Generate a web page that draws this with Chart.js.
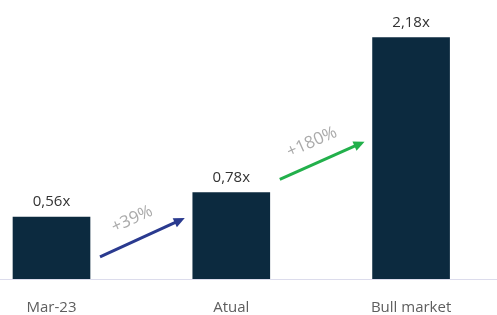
<!DOCTYPE html>
<html>
<head>
<meta charset="utf-8">
<script src="https://cdn.jsdelivr.net/npm/chart.js@4/dist/chart.umd.min.js"></script>
<style>
  html, body { margin: 0; padding: 0; background: #fff; }
  #wrap { width: 497px; height: 315px; position: relative; }
</style>
</head>
<body>
<div id="wrap"><canvas id="chart"></canvas></div>
<script>
// Múltiplos: Mar-23 -> Atual -> Bull market
const categories = ['Mar-23', 'Atual', 'Bull market'];
const multiples = [0.56, 0.78, 2.18];
const valueLabels = ['0,56x', '0,78x', '2,18x'];

// setas entre as barras (valores no eixo y)
const arrowFromY = [0.2, 0.9];
const arrowToY = [0.55, 1.24];
const arrowLabels = ['+39%', '+180%'];
const arrowColors = ['#2a3a8f', '#22b04b'];

const BAR_COLOR = '#0c2a3f';
const FONT = '"Open Sans", Lato, sans-serif';

const annotations = {
  id: 'annotations',
  afterDatasetsDraw(chart) {
    const { ctx, scales: { y } } = chart;
    const bars = chart.getDatasetMeta(0).data;

    ctx.save();
    ctx.font = `15px ${FONT}`;
    ctx.fillStyle = '#333';
    ctx.textAlign = 'center';
    ctx.textBaseline = 'middle';
    bars.forEach((bar, i) => {
      ctx.fillText(valueLabels[i], bar.x, bar.y - 15);
    });

    arrowLabels.forEach((label, i) => {
      const a = bars[i], b = bars[i + 1];
      const x0 = a.x + a.width / 2 + 10;
      const x1 = b.x - b.width / 2 - 8;
      const y0 = y.getPixelForValue(arrowFromY[i]);
      const y1 = y.getPixelForValue(arrowToY[i]);
      const ang = Math.atan2(y1 - y0, x1 - x0);

      ctx.strokeStyle = arrowColors[i];
      ctx.fillStyle = arrowColors[i];
      ctx.lineWidth = 3;
      ctx.beginPath();
      ctx.moveTo(x0, y0);
      ctx.lineTo(x1 - 8 * Math.cos(ang), y1 - 8 * Math.sin(ang));
      ctx.stroke();
      ctx.beginPath();
      ctx.moveTo(x1, y1);
      ctx.lineTo(x1 - 11 * Math.cos(ang) + 5 * Math.sin(ang), y1 - 11 * Math.sin(ang) - 5 * Math.cos(ang));
      ctx.lineTo(x1 - 11 * Math.cos(ang) - 5 * Math.sin(ang), y1 - 11 * Math.sin(ang) + 5 * Math.cos(ang));
      ctx.closePath();
      ctx.fill();

      const mx = (x0 + x1) / 2 + 20 * Math.sin(ang) - 2;
      const my = (y0 + y1) / 2 - 20 * Math.cos(ang);
      ctx.translate(mx, my);
      ctx.rotate(ang);
      ctx.font = `17px ${FONT}`;
      ctx.fillStyle = '#aaaaaa';
      ctx.textBaseline = 'middle';
      ctx.fillText(label, 0, 0);
      ctx.setTransform(1, 0, 0, 1, 0, 0);
    });
    ctx.restore();
  },
};

new Chart(document.getElementById('chart'), {
  type: 'bar',
  data: {
    datasets: [{
      data: multiples.map((v, i) => ({ x: i, y: v })),
      backgroundColor: BAR_COLOR,
      barThickness: 77,
    }],
  },
  options: {
    responsive: true,
    maintainAspectRatio: false,
    animation: false,
    layout: { padding: 0 },
    plugins: { legend: { display: false }, tooltip: { enabled: false } },
    scales: {
      x: {
        type: 'linear',
        offset: false,
        min: -0.2865,
        max: 2.478,
        afterBuildTicks: (axis) => { axis.ticks = categories.map((_, i) => ({ value: i })); },
        afterFit: (axis) => { axis.height = 36; },
        grid: { display: false, offset: false },
        border: { color: '#dcdcec', width: 1 },
        ticks: {
          color: '#5e5e5e',
          font: { family: FONT, size: 15 },
          padding: 12,
          maxRotation: 0,
          callback: (value) => categories[value],
        },
      },
      y: {
        display: false,
        min: 0,
        max: 2.52,
      },
    },
  },
  plugins: [annotations],
});
</script>
</body>
</html>
